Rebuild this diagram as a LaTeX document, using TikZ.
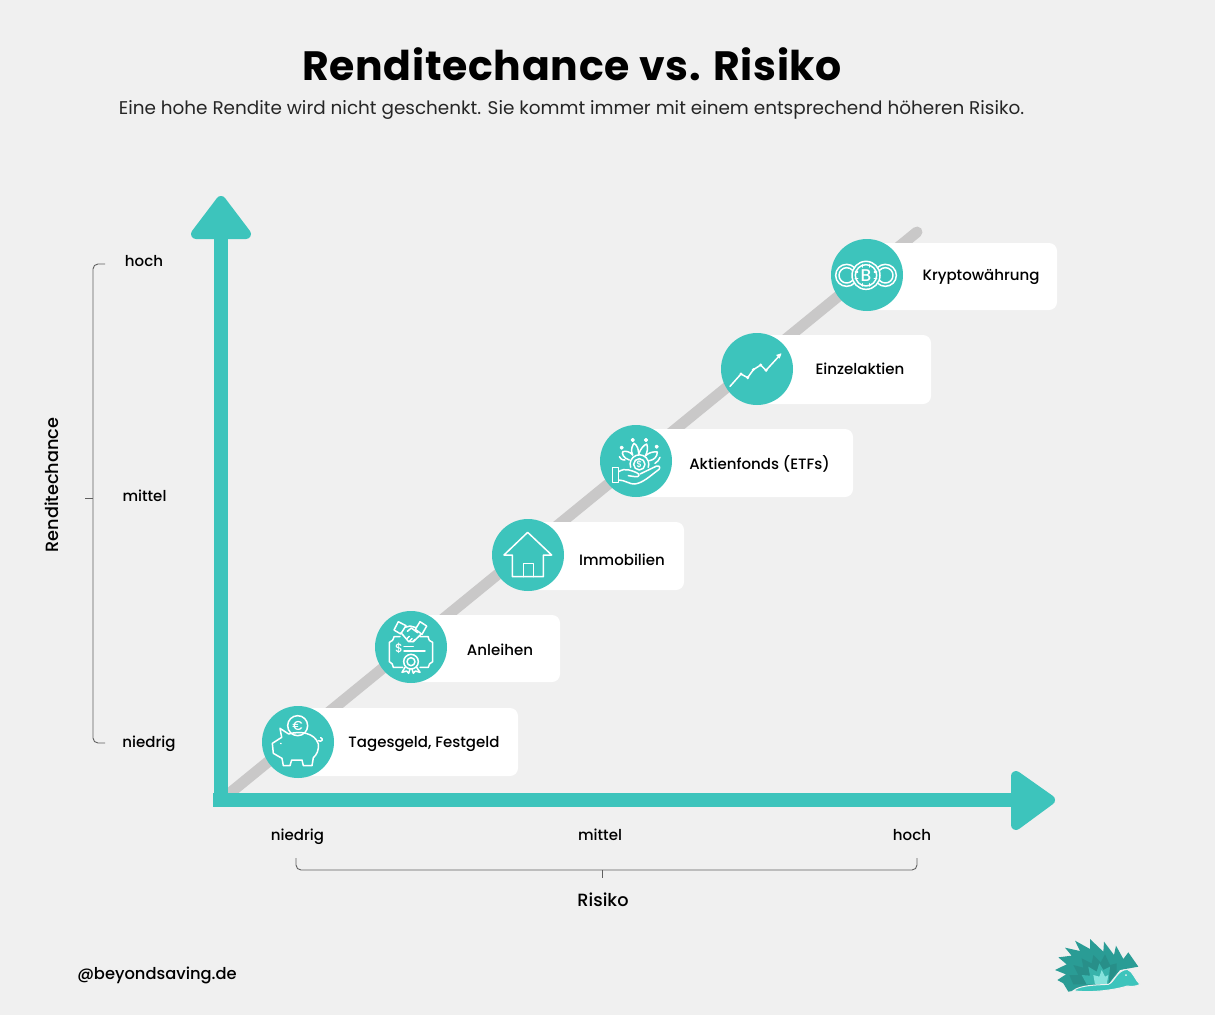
\documentclass[tikz,border=0pt]{standalone}
\usepackage{fontspec}
\setmainfont{Poppins}
\newfontfamily\medfont{Poppins Medium}
\newfontfamily\titlefont[LetterSpace=1.7]{Poppins Bold}
\usepackage{tikz}
\usetikzlibrary{calc}
\definecolor{bgcol}{HTML}{F0F0F0}
\definecolor{tealcol}{HTML}{3DC4BC}
\definecolor{darkteal}{HTML}{2A9C95}
\definecolor{deepteal}{HTML}{288F89}
\definecolor{midteal}{HTML}{38B3AB}
\definecolor{paleteal}{HTML}{85E3DC}
\definecolor{linecol}{HTML}{C9C8C8}
\definecolor{bracketcol}{HTML}{606060}
\tikzstyle{tile} = [circle, minimum size=72pt, inner sep=0pt, fill=tealcol]
\tikzstyle{card} = [rectangle, rounded corners=8pt, fill=white, inner sep=0pt]
\tikzstyle{lbl} = [inner sep=0pt, font=\medfont\fontsize{15}{18}\selectfont]
\tikzstyle{axislbl} = [inner sep=0pt, font=\medfont\fontsize{15}{18}\selectfont]
\tikzstyle{axistitle} = [inner sep=0pt, font=\medfont\fontsize{17.7}{20}\selectfont]
\tikzstyle{axisline} = [line width=14pt, tealcol]
\tikzstyle{axishead} = [fill=tealcol, draw=tealcol, line width=10pt, line join=round]
\tikzstyle{diag} = [line width=11pt, linecol, line cap=round]
\tikzstyle{bracket} = [line width=0.9pt, bracketcol, rounded corners=5pt]
\tikzstyle{icon} = [draw=white, line width=1.5pt, line join=round, line cap=round]
\begin{document}
\begin{tikzpicture}[x=1pt,y=-1pt]
\useasboundingbox (0,0) rectangle (1215,1015);
\fill [bgcol] (0,0) rectangle (1215,1015);
% heading
\node (title) [inner sep=0pt, font=\titlefont\fontsize{41}{48}\selectfont, text=black] at (572,64.5) {Renditechance vs. Risiko};
\node (subtitle) [inner sep=0pt, font=\fontsize{18.4}{24}\selectfont, text=black!85] at (571.5,110) {Eine hohe Rendite wird nicht geschenkt. Sie kommt immer mit einem entsprechend höheren Risiko.};
% diagonal
\coordinate (diagstart) at (225,797);
\coordinate (diagend) at (917,232);
\draw [diag] (diagstart) -- (diagend);
% axes
\coordinate (origin) at (221,807);
\coordinate (yend) at (221,225);
\coordinate (xstart) at (213,800);
\coordinate (xend) at (1025,800);
\draw [axisline] (origin) -- (yend);
\draw [axisline] (xstart) -- (xend);
\draw [axishead] (221,201) -- (246,234) -- (196,234) -- cycle;
\draw [axishead] (1050,800) -- (1016,776) -- (1016,825) -- cycle;
% cards
\node (tagescard) [card, minimum width=221pt, minimum height=68pt] at (407.5,742) {};
\node (anleihecard) [card, minimum width=150pt, minimum height=67pt] at (485,648.5) {};
\node (immocard) [card, minimum width=156pt, minimum height=68pt] at (606,556) {};
\node (fondscard) [card, minimum width=217pt, minimum height=68pt] at (744.5,463) {};
\node (aktiecard) [card, minimum width=174pt, minimum height=69pt] at (844,369.5) {};
\node (kryptocard) [card, minimum width=190pt, minimum height=67pt] at (962,276.5) {};
% tiles
\node (tagestile) [tile] at (298,742) {};
\node (anleihetile) [tile] at (411,647) {};
\node (immotile) [tile] at (528,555) {};
\node (fondstile) [tile] at (636,461) {};
\node (aktietile) [tile] at (757,369) {};
\node (kryptotile) [tile] at (867,275) {};
% card labels
\node (tageslbl) [lbl] at (424,744) {Tagesgeld, Festgeld};
\node (anleihelbl) [lbl] at (500,650) {Anleihen};
\node (immolbl) [lbl] at (622,560) {Immobilien};
\node (fondslbl) [lbl] at (759.5,464) {Aktienfonds (ETFs)};
\node (aktielbl) [lbl] at (860,369) {Einzelaktien};
\node (kryptolbl) [lbl] at (981,277) {Kryptowährung};
% piggy icon
\begin{scope}[shift={(250,590)},scale=1/3]
\draw [icon] (90,415) -- (116,432) .. controls (150,422) and (195,428) .. (205,462) .. controls (207,480) and (200,495) .. (190,503) -- (186,527) -- (160,527) -- (156,510) -- (125,510) -- (120,527) -- (100,527) -- (96,505) -- (70,490) -- (67,460) -- (95,442) -- cycle;
\draw [icon] (143,407) circle (30);
\draw [icon] (205,452) .. controls (215,458) and (222,446) .. (212,443);
\node (euro) [inner sep=0pt, text=white, font=\medfont\fontsize{13}{13}\selectfont] at (143,407) {€};
\draw [icon] (92,460) -- (93,461);
\end{scope}
% bond icon
\begin{scope}[shift={(250,590)},scale=1/3]
\draw [icon] (450,140) -- (432,140) .. controls (430,150) and (425,155) .. (418,157) -- (418,215) .. controls (425,217) and (430,225) .. (430,232) -- (458,232);
\draw [icon] (510,232) -- (535,232) .. controls (535,225) and (540,217) .. (548,215) -- (548,157) .. controls (540,155) and (535,150) .. (535,140) -- (510,140);
\draw [icon] (445,95) -- (468,107) -- (452,132) -- (432,120) -- cycle;
\draw [icon] (510,95) -- (530,108) -- (516,133) -- (496,118) -- cycle;
\draw [icon] (465,112) -- (480,108) -- (499,113);
\draw [icon] (453,128) -- (476,155) -- (490,155) -- (514,132);
\draw [icon] (472,124) -- (484,114) -- (503,128);
\draw [icon] (470,147) -- (478,139);
\draw [icon] (478,154) -- (486,146);
\draw [icon] (488,155) -- (495,148);
\draw [icon] (462,170) -- (490,170);
\draw [icon] (462,183) -- (525,183);
\draw [icon] (483,215) circle (22);
\draw [icon] (483,215) circle (12);
\draw [icon] (465,232) -- (456,247) -- (470,243) -- (476,250) -- (480,237);
\draw [icon] (500,232) -- (510,247) -- (496,243) -- (490,250) -- (486,237);
\node (dollarbond) [inner sep=0pt, text=white, font=\medfont\fontsize{12}{12}\selectfont] at (447,174) {\$};
\end{scope}
% house icon
\begin{scope}[shift={(480,410)},scale=1/3]
\draw [icon] (72,435) -- (143,367) -- (215,435) -- (190,435) -- (190,500) -- (97,500) -- (97,435) -- cycle;
\draw [icon] (130,500) -- (130,460) -- (160,460) -- (160,500);
\end{scope}
% lotus icon
\begin{scope}[shift={(480,410)},scale=1/3]
\draw [icon] (398,172) -- (416,172) -- (416,218) -- (398,218) -- cycle;
\draw [icon] (416,185) .. controls (435,172) and (455,182) .. (470,188) .. controls (480,192) and (480,202) .. (465,200) -- (445,197);
\draw [icon] (480,192) -- (530,168) .. controls (542,165) and (542,178) .. (532,182) .. controls (510,198) and (490,218) .. (465,222) .. controls (450,224) and (435,210) .. (416,210);
\draw [icon] (478,163) circle (17);
\draw [icon] (452,172) arc (160:380:28);
\draw [icon] (448,150) .. controls (430,145) and (425,130) .. (428,125) .. controls (438,122) and (450,125) .. (458,135);
\draw [icon] (458,135) .. controls (450,120) and (458,105) .. (462,100) .. controls (472,105) and (476,120) .. (476,132);
\draw [icon] (476,132) .. controls (482,115) and (492,105) .. (500,102) .. controls (505,115) and (502,125) .. (496,138);
\draw [icon] (496,138) .. controls (505,128) and (520,124) .. (532,126) .. controls (532,140) and (522,150) .. (508,152);
\draw [icon] (435,150) .. controls (425,150) and (420,145) .. (418,140);
\draw [icon] (525,160) .. controls (532,155) and (538,150) .. (540,142);
\draw [icon] (425,113) circle (4);
\draw [icon] (458,90) circle (4);
\draw [icon] (498,90) circle (4);
\draw [icon] (530,110) circle (4);
\node (dollarlotus) [inner sep=0pt, text=white, font=\medfont\fontsize{9}{9}\selectfont] at (478,163) {\$};
\end{scope}
% chart icon
\begin{scope}[shift={(710,225)},scale=1/3]
\draw [icon] (60,484) -- (93,447) -- (113,458) -- (130,434) -- (152,420) -- (168,436) -- (212,388);
\fill [white] (214,385) -- (198,390) -- (209,401) -- cycle;
\fill [white] (93,447) circle (5);
\fill [white] (113,458) circle (5);
\fill [white] (130,434) circle (5);
\fill [white] (152,420) circle (5);
\fill [white] (168,436) circle (5);
\end{scope}
% coin icon
\begin{scope}[shift={(710,225)},scale=1/3]
\draw [icon] (410,151) circle (33);
\draw [icon] (410,151) circle (23);
\draw [icon] (526,151) circle (33);
\draw [icon] (526,151) circle (23);
\draw [icon, fill=tealcol] (468,151) circle (42);
\draw [icon] (468,151) circle (32);
\node (bitcoin) [inner sep=0pt, text=white, font=\medfont\fontsize{17}{17}\selectfont] at (468,151) {B};
\draw [icon] (458,119) -- (458,126);
\draw [icon] (478,119) -- (478,126);
\draw [icon] (458,176) -- (458,183);
\draw [icon] (478,176) -- (478,183);
\draw [icon] (436,141) -- (443,141);
\draw [icon] (436,161) -- (443,161);
\draw [icon] (493,141) -- (500,141);
\draw [icon] (493,161) -- (500,161);
\end{scope}
% axis labels
\node (yhoch) [axislbl] at (144,261) {hoch};
\node (ymittel) [axislbl] at (144.5,496) {mittel};
\node (yniedrig) [axislbl] at (149,744) {niedrig};
\node (xniedrig) [axislbl] at (297.5,837) {niedrig};
\node (xmittel) [axislbl] at (600,835) {mittel};
\node (xhoch) [axislbl] at (912,835) {hoch};
\node (ytitle) [axistitle, rotate=90] at (52,485) {Renditechance};
\node (xtitle) [axistitle] at (603,900) {Risiko};
\node (handle) [inner sep=0pt, font=\medfont\fontsize{16.3}{20}\selectfont] at (157,975) {@beyondsaving.de};
% brackets
\draw [bracket] (105,264) -- (93,264) -- (93,743) -- (105,743);
\draw [bracket] (85,498) -- (93,498);
\draw [bracket] (296,858) -- (296,870) -- (917,870) -- (917,858);
\draw [bracket] (602,870) -- (602,878);
% hedgehog
\begin{scope}[shift={(1040,925)},scale=1/3]
\fill [darkteal] (85,200) -- (70,175) -- (52,165) -- (78,148) -- (45,135) -- (80,118) -- (55,97) -- (95,92) -- (75,68) -- (120,78) -- (105,47) -- (150,72) -- (150,42) -- (190,80) -- (192,50) -- (222,90) -- (228,62) -- (250,102) -- (265,82) -- (295,125) -- (240,135) -- (205,178) -- (100,197) -- cycle;
\fill [deepteal] (100,178) -- (88,150) -- (115,150) -- (100,120) -- (130,128) -- (125,100) -- (155,115) -- (160,90) -- (182,112) -- (195,88) -- (210,120) -- (230,115) -- (230,140) -- (205,178) -- cycle;
\fill [midteal] (140,178) -- (125,150) -- (150,152) -- (145,125) -- (170,140) -- (178,115) -- (190,135) -- (210,125) -- (205,178) -- cycle;
\fill [paleteal] (165,178) -- (160,150) -- (178,155) -- (185,135) -- (195,155) -- (205,150) -- (200,178) -- cycle;
\draw [fill=tealcol, draw=bgcol, line width=1pt] (100,197) .. controls (120,180) and (170,180) .. (205,178) .. controls (225,170) and (230,135) .. (262,133) .. controls (280,140) and (285,165) .. (300,178) .. controls (290,185) and (270,185) .. (262,183) .. controls (225,195) and (150,205) .. (100,197) -- cycle;
\fill [bgcol] (258,150) circle (3);
\end{scope}
\end{tikzpicture}
\end{document}
